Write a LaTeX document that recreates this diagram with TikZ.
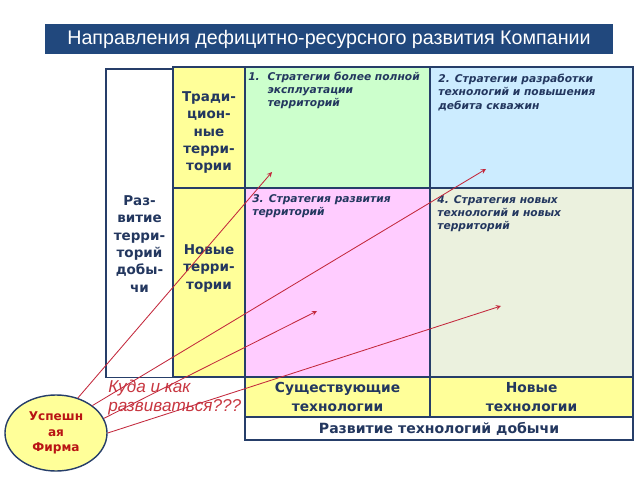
\documentclass[tikz,border=0pt]{standalone}
\usepackage{fontspec}
\setmainfont{DejaVu Sans}
\newfontfamily\arialfont{Liberation Sans}
\usetikzlibrary{positioning}
\usetikzlibrary{shapes.geometric}
\usetikzlibrary{arrows}
\definecolor{barblue}{RGB}{33,72,125}
\definecolor{gridblue}{RGB}{38,62,105}
\definecolor{inktext}{RGB}{35,55,95}
\definecolor{cellgreen}{RGB}{204,255,204}
\definecolor{cellblue}{RGB}{204,236,255}
\definecolor{cellpink}{RGB}{255,204,255}
\definecolor{cellsage}{RGB}{235,241,222}
\definecolor{cellyellow}{RGB}{255,255,153}
\definecolor{askred}{RGB}{200,55,65}
\definecolor{firmred}{RGB}{185,20,20}
\definecolor{linered}{RGB}{195,40,60}
\tikzset{
	cell/.style={
		draw=gridblue,
		line width=1.1pt,
		outer sep=0pt,
		inner sep=0pt},
	sidetext/.style={
		inner sep=0pt,
		align=center,
		text=inktext,
		font=\bfseries\fontsize{9.6}{12.4}\selectfont},
	strat/.style={
		inner sep=0pt,
		anchor=north west,
		align=left,
		text=inktext,
		font=\bfseries\itshape\fontsize{7.6}{9.4}\selectfont},
	firm/.style={
		ellipse,
		draw=gridblue,
		line width=1pt,
		fill=cellyellow,
		minimum width=2.55cm,
		minimum height=1.9cm,
		align=center,
		text=firmred,
		font=\bfseries\fontsize{8.6}{10.8}\selectfont},
	way/.style={
		draw=linered,
		line width=0.6pt,
		->, >=stealth}
}

\begin{document}
\begin{tikzpicture}[x=0.025cm,y=-0.025cm]
	\useasboundingbox[fill=white] (0,0) rectangle (640,480);
	% title
	\node[fill=barblue, minimum width=14.2cm, minimum height=0.75cm, text=white,
		font=\arialfont\fontsize{14}{16}\selectfont] (title) at (329,39)
		{Направления дефицитно-ресурсного развития Компании};
	% grid
	\node[cell, fill=cellyellow, minimum width=1.8cm, minimum height=3.025cm, anchor=north west] (trad) at (173,67) {};
	\node[cell, fill=cellyellow, minimum width=1.8cm, minimum height=4.725cm, below=0pt of trad] (newt) {};
	\node[cell, fill=white, line width=0.8pt, minimum width=1.675cm, minimum height=7.7cm,
		below left=0.05cm and 0pt of trad.north west] (dev) {};
	\node[cell, fill=cellgreen, minimum width=4.625cm, minimum height=3.025cm, right=0pt of trad] (c1) {};
	\node[cell, fill=cellblue, minimum width=5.075cm, minimum height=3.025cm, right=0pt of c1] (c2) {};
	\node[cell, fill=cellpink, minimum width=4.625cm, minimum height=4.725cm, below=0pt of c1] (c3) {};
	\node[cell, fill=cellsage, minimum width=5.075cm, minimum height=4.725cm, below=0pt of c2] (c4) {};
	\node[cell, fill=cellyellow, minimum width=4.625cm, minimum height=1cm, below=0pt of c3,
		align=center, text=inktext, font=\bfseries\fontsize{9.8}{13}\selectfont] (tex) {Существующие\\технологии};
	\node[cell, fill=cellyellow, minimum width=5.075cm, minimum height=1cm, below=0pt of c4,
		align=center, text=inktext, font=\bfseries\fontsize{9.8}{13}\selectfont] (ntech) {Новые\\технологии};
	\node[cell, fill=white, minimum width=9.7cm, minimum height=0.575cm, below right=0pt and 0pt of tex.south west,
		text=inktext, font=\bfseries\fontsize{10}{12}\selectfont] (mine) {Развитие технологий добычи};
	% side labels
	\node[sidetext, below=0.6cm of trad.north] (tradtxt) {Тради-\\цион-\\ные\\терри-\\тории};
	\node[sidetext, below=1.4cm of newt.north] (newttxt) {Новые\\терри-\\тории};
	\node[sidetext, below=3.15cm of dev.north] (devtxt) {Раз-\\витие\\терри-\\торий\\добы-\\чи};
	% strategies
	\node[strat, below right=0.1cm and 0.075cm of c1.north west] (s1)
		{\begin{tabular}{@{}l@{\hspace{5.5pt}}l@{}}1. & Стратегии более полной\\ & эксплуатации\\ & территорий\end{tabular}};
	\node[strat, below right=0.175cm and 0.2cm of c2.north west] (s2)
		{2. Стратегии разработки\\технологий и повышения\\дебита скважин};
	\node[strat, below right=0.15cm and 0.175cm of c3.north west] (s3)
		{3. Стратегия развития\\территорий};
	\node[strat, below right=0.175cm and 0.175cm of c4.north west] (s4)
		{4. Стратегия новых\\технологий и новых\\территорий};
	% firm and question
	\node[firm] (firm) at (56,433) {Успешн\\ая\\Фирма};
	\node[inner sep=0pt, anchor=north west, align=left, text=askred,
		font=\arialfont\itshape\fontsize{12.2}{13}\selectfont] (ask) at (108,380) {Куда и как\\развиваться???};
	\coordinate (t1) at (272,172);
	\coordinate (t2) at (486,169);
	\coordinate (t3) at (317,311);
	\coordinate (t4) at (501,306);
	\draw[way] (firm.58) -- (t1);
	\draw[way] (firm.37) -- (t2);
	\draw[way] (firm.17) -- (t3);
	\draw[way] (firm.east) -- (t4);
\end{tikzpicture}
\end{document}
